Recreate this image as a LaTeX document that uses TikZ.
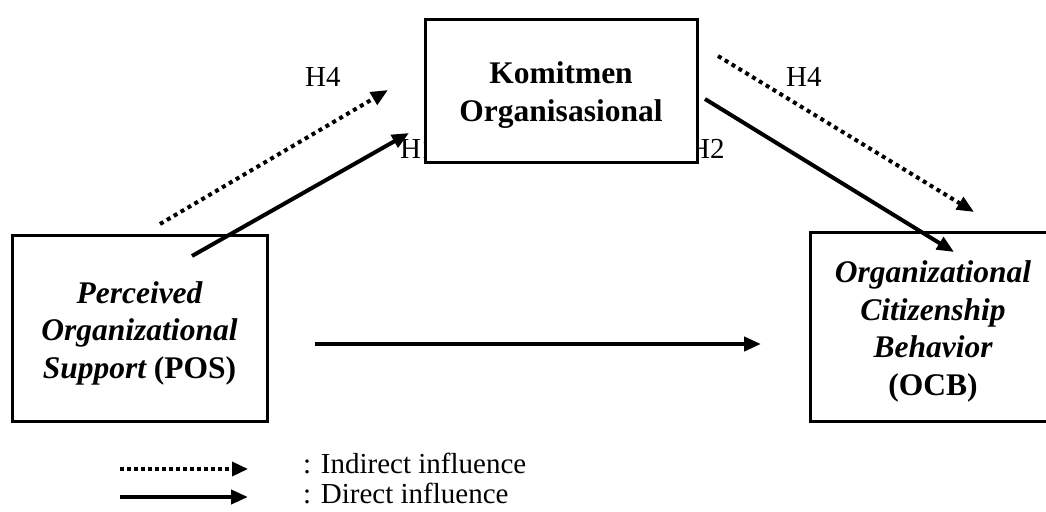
\documentclass[tikz,border=0pt]{standalone}
\usepackage{fontspec}
\setmainfont{Liberation Serif}
\usetikzlibrary{arrows.meta}
\begin{document}
\begin{tikzpicture}[x=1pt,y=-1pt,
  box/.style={draw,line width=3pt,fill=white,inner sep=0pt},
  btxt/.style={inner sep=0pt,align=center,font=\fontsize{31.5}{37.5}\selectfont\bfseries},
  lbl/.style={anchor=base west,inner sep=0pt,font=\fontsize{29}{30}\selectfont},
  direct/.style={line width=4pt,-{Triangle[length=17pt,width=14pt]}},
  indirect/.style={line width=4pt,dash pattern=on 4pt off 4pt,-{Triangle[length=17pt,width=14pt]}}]
\useasboundingbox (0,0) rectangle (1046,511);
% partly hidden labels
\node[lbl] (h1) at (400,158) {H1};
\node[lbl] (h2) at (689,158) {H2};
% boxes
\node[box,minimum width=272pt,minimum height=142pt] (kom) at (561,91) {};
\node[box,minimum width=255pt,minimum height=186pt] (pos) at (139.5,328) {};
\node[box,minimum width=246pt,minimum height=189pt] (ocb) at (933,326.5) {};
\node[btxt] (komt) at ([yshift=-4pt]kom.center) {Komitmen\\Organisasional};
\node[btxt] (post) at ([yshift=-5pt]pos.center) {\itshape Perceived\\\itshape Organizational\\\itshape Support \upshape(POS)};
\node[btxt] (ocbt) at ([yshift=-5pt]ocb.center) {\itshape Organizational\\\itshape Citizenship\\\itshape Behavior\\(OCB)};
% labels
\node[lbl] (h4a) at (305,86) {H4};
\node[lbl] (h4b) at (786,86) {H4};
% connector end points
\coordinate (p1) at (160,224);
\coordinate (k1) at (388,90);
\coordinate (p2) at (192,256);
\coordinate (k2) at (409,133);
\coordinate (k3) at (718,56);
\coordinate (o3) at (974,212);
\coordinate (k4) at (705,99);
\coordinate (o4) at (954,252);
\coordinate (p5) at (315,344);
\coordinate (o5) at (761,344);
\draw[indirect] (p1) -- (k1);
\draw[direct] (p2) -- (k2);
\draw[indirect] (k3) -- (o3);
\draw[direct] (k4) -- (o4);
\draw[direct] (p5) -- (o5);
% legend
\coordinate (l1a) at (120,469);
\coordinate (l1b) at (248,469);
\coordinate (l2a) at (120,497);
\coordinate (l2b) at (248,497);
\draw[line width=3.5pt,dash pattern=on 3.5pt off 3.5pt,-{Triangle[length=16pt,width=14pt]}] (l1a) -- (l1b);
\draw[direct] (l2a) -- (l2b);
\node[lbl] (leg1) at (303,473) {: Indirect influence};
\node[lbl] (leg2) at (303,503) {: Direct influence};
\end{tikzpicture}
\end{document}
